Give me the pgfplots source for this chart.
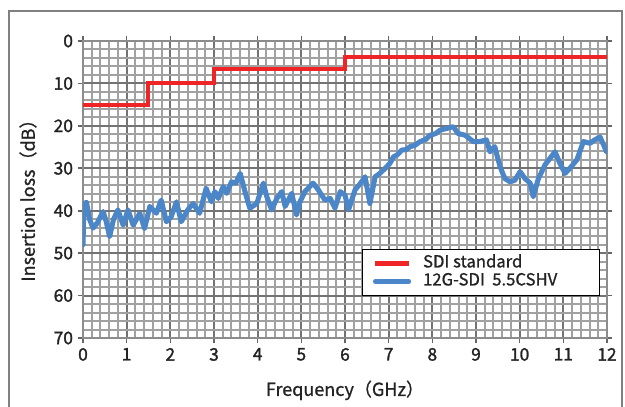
\documentclass[border=0pt]{standalone}
\usepackage{fontspec}
\setmainfont{Noto Sans CJK JP}
\newfontfamily\tickfont[FakeBold=1.6]{Noto Sans CJK JP}
\newfontfamily\medfont[FakeBold=0.9]{Noto Sans CJK JP}
\usepackage{pgfplots}
\pgfplotsset{compat=1.18}

\definecolor{sdired}{RGB}{238,36,38}
\definecolor{cblue}{RGB}{74,134,200}
\definecolor{txt}{RGB}{35,35,35}

\begin{document}
\begin{tikzpicture}
% picture area: 625x407 px at 0.75pt/px, axis box lower-left at origin
\useasboundingbox (-62.25pt,-51.75pt) rectangle (406.5pt,253.5pt);
\draw[black!50, line width=0.8pt] (-55.5pt,-80pt) rectangle (404.25pt,245.25pt);

\begin{axis}[
    scale only axis,
    width=393pt, height=222.75pt,
    xmin=0, xmax=12,
    ymin=0, ymax=70,
    y dir=reverse,
    xtick={0,1,...,12},
    ytick={0,10,...,70},
    minor x tick num=4,
    minor y tick num=4,
    grid=both,
    major grid style={color=black!55, line width=1.5pt},
    minor grid style={color=black!37, line width=1.5pt},
    tick align=outside,
    major tick length=4pt,
    minor tick length=0pt,
    tick style={color=black!60, line width=1.2pt},
    axis line style={color=black!45, line width=1.2pt},
    /pgf/number format/assume math mode=true,
    ticklabel style={font=\tickfont\fontsize{13}{14}\selectfont, text=txt},
    xlabel={Frequency（GHz）},
    ylabel={Insertion loss（dB）},
    label style={font=\medfont\fontsize{13.5}{15}\selectfont, text=txt},
    xlabel style={at={(axis description cs:0.5,-0.195)}, anchor=base},
    ylabel style={at={(axis description cs:-0.092,0.478)}, anchor=base},
    legend cell align=left,
    legend image code/.code={\draw[#1, line width=3.6pt] (0pt,0pt) -- (25pt,0pt);},
    legend style={at={(0.532,0.30)}, anchor=north west,
        draw=black, line width=0.8pt, fill=white,
        inner xsep=8pt, inner ysep=4pt, row sep=0.5pt,
        font=\medfont\fontsize{12.5}{14}\selectfont, text=txt,
        nodes={inner ysep=0.5pt, text height=9pt, text depth=3pt},
        /tikz/every odd column/.append style={column sep=7pt}},
]

\addplot[sdired, line width=3pt, line join=miter] coordinates {
    (0,15) (1.5,15) (1.5,10) (3,10) (3,6.7) (6,6.7) (6,3.8) (12,3.8)
};
\addlegendentry{\makebox[122pt][l]{SDI standard}}

\addplot[cblue, line width=3.8pt, line join=round, line cap=round] coordinates {
    (0.00,48) (0.02,38.5) (0.08,38) (0.15,42) (0.23,44.1) (0.32,43)
    (0.46,40.2) (0.53,42.5) (0.61,46.1) (0.70,42) (0.80,39.8) (0.92,43.4)
    (1.03,39.8) (1.15,43.4) (1.30,40.6) (1.41,44.2) (1.53,39.0) (1.68,40.6)
    (1.79,37.5) (1.91,42.6) (2.02,41.4) (2.14,37.9) (2.25,42.6) (2.40,39.8)
    (2.52,38.3) (2.67,40.6) (2.82,34.7) (2.94,37.9) (3.02,35.5) (3.10,37.1)
    (3.21,34.3) (3.29,35.9) (3.40,33.2) (3.50,33.5) (3.60,31.2) (3.71,35.5)
    (3.82,39.4) (3.98,38.3) (4.13,33.5) (4.21,36.7) (4.32,39.8) (4.44,37.1)
    (4.55,35.5) (4.63,39.0) (4.78,35.9) (4.89,41.0) (4.97,37.9) (5.08,35.5)
    (5.27,33.5) (5.39,35.1) (5.54,37.5) (5.66,37.1) (5.77,39.4) (5.89,35.5)
    (6.00,36.3) (6.08,39.8) (6.23,35.1) (6.38,33.2) (6.46,32.0) (6.57,38.3)
    (6.69,32.0) (6.80,31.2) (6.92,30.0) (7.03,28.8) (7.11,27.3) (7.20,26.8)
    (7.30,25.7) (7.40,25.6) (7.49,24.9) (7.60,24.6) (7.72,23.7) (7.85,23.2)
    (7.95,22.2) (8.08,21.8) (8.18,21.0) (8.33,20.6) (8.48,20.2) (8.59,21.8)
    (8.75,22.2) (8.94,23.7) (9.09,23.7) (9.24,23.3) (9.32,26.1) (9.43,24.9)
    (9.55,29.6) (9.66,32.4) (9.78,33.2) (9.89,32.8) (10.01,30.8) (10.12,32.4)
    (10.24,33.5) (10.31,36.7) (10.43,32.4) (10.58,29.2) (10.81,26.1) (10.92,28.8)
    (11.04,31.2) (11.15,30.0) (11.31,28.0) (11.46,23.7) (11.61,24.1) (11.72,23.3)
    (11.84,22.6) (11.99,26.1)
};
\addlegendentry{12G-SDI\ \ 5.5CSHV}
\end{axis}
\end{tikzpicture}
\end{document}
